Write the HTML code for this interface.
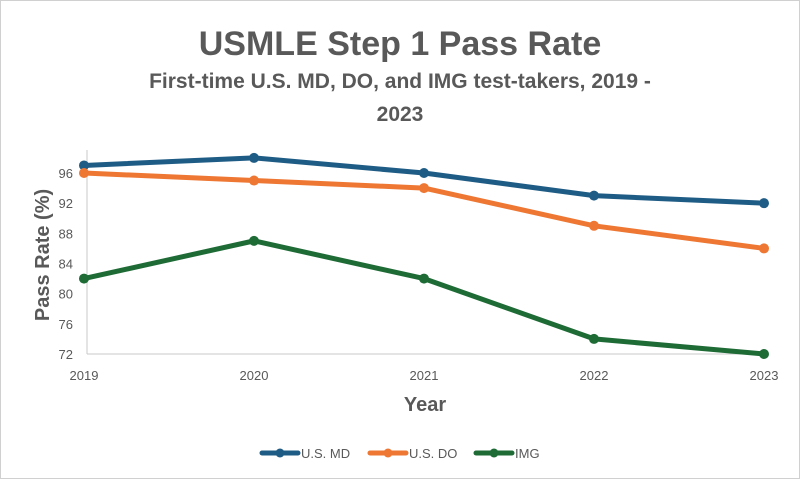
<!DOCTYPE html>
<html><head><meta charset="utf-8"><style>
body{margin:0;background:#fff;font-family:"Liberation Sans",sans-serif;}
svg{display:block}
</style></head><body>
<svg id="chart" width="800" height="479">
<rect x="0.5" y="0.5" width="799" height="478" fill="#fff" stroke="#d0d0d0"/>
<text x="400" y="55" text-anchor="middle" font-size="34" font-weight="bold" fill="#595959">USMLE Step 1 Pass Rate</text>
<text x="400" y="88" text-anchor="middle" font-size="21" font-weight="bold" fill="#595959">First-time U.S. MD, DO, and IMG test-takers, 2019 -</text>
<text x="400" y="121" text-anchor="middle" font-size="21" font-weight="bold" fill="#595959">2023</text>
<text transform="translate(49,255) rotate(-90)" text-anchor="middle" font-size="20" font-weight="bold" fill="#595959">Pass Rate (%)</text>
<text x="425" y="411" text-anchor="middle" font-size="20" font-weight="bold" fill="#595959">Year</text>
<g id="axes"></g><g id="series"></g><g id="legend"></g>
</svg>
<script>
const years=[2019,2020,2021,2022,2023];
const yTicks=[72,76,80,84,88,92,96];
const mdValues=[97,98,96,93,92];
const doValues=[96,95,94,89,86];
const imgValues=[82,87,82,74,72];
const seriesNames=["U.S. MD","U.S. DO","IMG"];
const NS="http://www.w3.org/2000/svg";
const x0=84,x1=764,yb=354,yMin=72,yMax=96,yTop=173;
const xs=i=>x0+i*(x1-x0)/(years.length-1);
const ys=v=>yb-(v-yMin)*(yb-yTop)/(yMax-yMin);
function mk(t,a,p){const e=document.createElementNS(NS,t);for(const k in a)e.setAttribute(k,a[k]);p.appendChild(e);return e;}
const ax=document.getElementById('axes');
let l=mk('line',{x1:87,y1:150,x2:87,y2:yb,stroke:'#c8c8c8','stroke-width':1},ax);


l=mk('line',{x1:87,y1:yb,x2:x1,y2:yb,stroke:'#c8c8c8','stroke-width':1},ax);


yTicks.forEach(v=>{const t=mk('text',{x:73,y:ys(v)+5,'text-anchor':'end','font-size':13,fill:'#595959'},ax);t.textContent=v;

});
years.forEach((y,i)=>{const t=mk('text',{x:xs(i),y:380,'text-anchor':'middle','font-size':13,fill:'#595959'},ax);t.textContent=y;

});
const sg=document.getElementById('series');
const data=[[mdValues,'#1f5c85','md'],[doValues,'#ee7733','do'],[imgValues,'#1e6b36','img']];
data.forEach(([vals,c,n])=>{
 const p=mk('polyline',{points:vals.map((v,i)=>xs(i)+','+ys(v)).join(' '),fill:'none',stroke:c,'stroke-width':5,'stroke-linejoin':'round'},sg);
 
 
 vals.forEach((v,i)=>{const m=mk('circle',{cx:xs(i),cy:ys(v),r:5,fill:c},sg);
 
 });
});
const lg=document.getElementById('legend');
const lx=[262,370,476];
data.forEach(([v,c,n],i)=>{
 const g=mk('g',{},lg);
 
 
 mk('line',{x1:lx[i],y1:453,x2:lx[i]+36,y2:453,stroke:c,'stroke-width':5,'stroke-linecap':'round'},g);
 mk('circle',{cx:lx[i]+18,cy:453,r:4.5,fill:c},g);
 const t=mk('text',{x:lx[i]+39,y:458,'font-size':13,fill:'#595959'},g);t.textContent=seriesNames[i];
});
</script>
</body></html>
